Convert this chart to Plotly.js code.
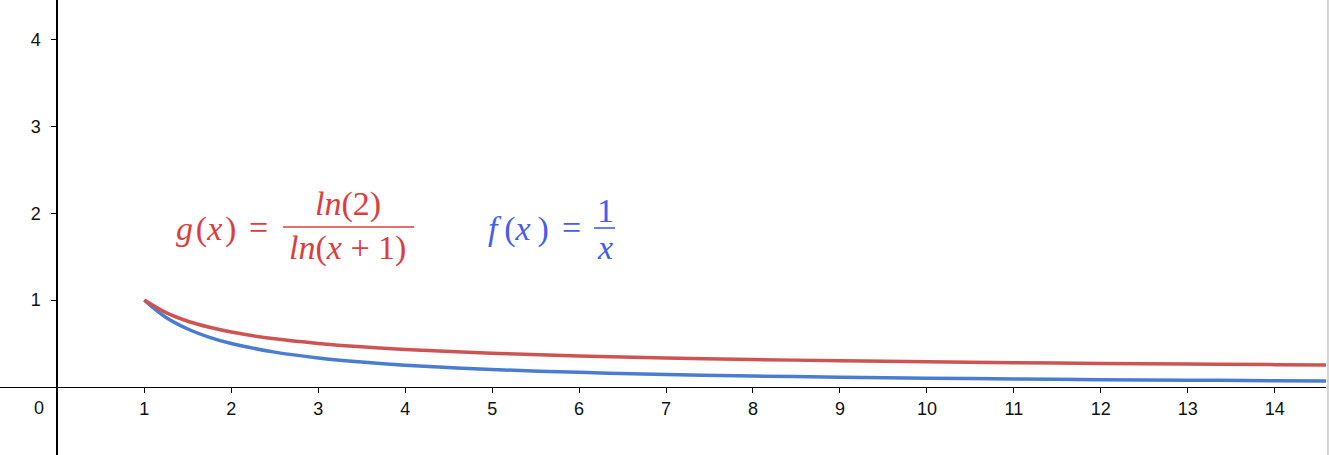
<!DOCTYPE html>
<html>
<head>
<meta charset="utf-8">
<script src="https://cdn.plot.ly/plotly-3.0.1.min.js"></script>
<style>html,body{margin:0;padding:0;background:#fff;}#chart{width:1329px;height:455px;}</style>
</head>
<body>
<div id="chart"></div>
<script>
// Values
const xs = [1, 1.25, 1.5, 1.75, 2, 2.5, 3, 3.5, 4, 5, 6, 7, 8, 9, 10, 11, 12, 13, 14, 14.6];
const fVals = [1, 0.8, 0.667, 0.571, 0.5, 0.4, 0.333, 0.286, 0.25, 0.2, 0.167, 0.143, 0.125, 0.111, 0.1, 0.091, 0.083, 0.077, 0.071, 0.068];
const gVals = [1, 0.855, 0.756, 0.686, 0.631, 0.553, 0.5, 0.461, 0.431, 0.387, 0.356, 0.333, 0.315, 0.301, 0.289, 0.279, 0.270, 0.263, 0.256, 0.252];
const xTicks = [1,2,3,4,5,6,7,8,9,10,11,12,13,14];
const yTicks = [1,2,3,4];

const W = 1329, H = 455, MR = 3;
const PW = W - MR;
const xRange = [-0.66, 14.59];
const yRange = [-0.785, 4.457];
const px = p => p / PW;          // pixel -> paper x
const py = p => 1 - p / H;       // pixel -> paper y

const red = 'rgb(206,84,84)';
const blue = 'rgb(74,124,210)';
const redText = 'rgb(220,62,62)';
const blueText = 'rgb(72,92,238)';

const traces = [
  {x: xs, y: fVals, mode: 'lines', line: {color: blue, width: 3.5, shape: 'spline'}, hoverinfo: 'skip'},
  {x: xs, y: gVals, mode: 'lines', line: {color: red, width: 3.5, shape: 'spline'}, hoverinfo: 'skip'}
];

const mathFont = (c) => ({family: 'Liberation Serif', size: 34, color: c});
const ann = (text, x, y, c, xanchor) => ({
  text: text, xref: 'paper', yref: 'paper', x: px(x), y: py(y),
  xanchor: xanchor || 'center', yanchor: 'middle', showarrow: false, font: mathFont(c)
});

const annotations = [
  ann('<i>g</i>&#8202;(<i>x</i>&#8202;)', 174, 229, redText, 'left'),
  ann('=', 258, 227, redText),
  ann('<i>ln</i>(2)', 348, 204, redText),
  ann('<i>ln</i>(<i>x</i>&nbsp;+&nbsp;1)', 347, 248, redText),
  ann('<i>f</i>&#8201;(<i>x</i>&#8201;)', 486, 229, blueText, 'left'),
  ann('=', 571, 227, blueText),
  ann('1', 605, 210, blueText),
  ann('<i>x</i>', 605, 248, blueText),
  {text: '0', xref: 'paper', yref: 'paper', x: px(38.5), y: py(407.5), xanchor: 'center', yanchor: 'middle',
   showarrow: false, font: {family: 'Liberation Sans', size: 18, color: '#111'}}
];

const shapes = [
  {type: 'line', xref: 'paper', yref: 'paper', x0: px(283), x1: px(414), y0: py(227), y1: py(227), line: {color: redText, width: 1.6}},
  {type: 'line', xref: 'paper', yref: 'paper', x0: px(594), x1: px(615), y0: py(228), y1: py(228), line: {color: blueText, width: 1.6}},
  {type: 'line', xref: 'paper', yref: 'paper', x0: 1.0015, x1: 1.0015, y0: 0, y1: 1, line: {color: '#aaa', width: 1}}
];

const tickFont = {family: 'Liberation Sans', size: 18, color: '#111'};

const layout = {
  width: W, height: H,
  margin: {l: 0, r: MR, t: 0, b: 0, pad: 0},
  paper_bgcolor: '#fff', plot_bgcolor: '#fff',
  showlegend: false,
  xaxis: {
    range: xRange, anchor: 'free',
    position: (0 - yRange[0]) / (yRange[1] - yRange[0]),
    showgrid: false, zeroline: false, showline: true, linecolor: '#000', linewidth: 1.5,
    ticks: 'outside', ticklen: 5, tickwidth: 1, tickcolor: '#000',
    tickvals: xTicks, ticktext: xTicks.map(String), tickfont: tickFont, fixedrange: true
  },
  yaxis: {
    range: yRange, anchor: 'free',
    position: (0 - xRange[0]) / (xRange[1] - xRange[0]),
    showgrid: false, zeroline: false, showline: true, linecolor: '#000', linewidth: 2,
    ticks: 'outside', ticklen: 5, tickwidth: 1, tickcolor: '#000', ticklabelstandoff: 7,
    tickvals: yTicks, ticktext: yTicks.map(String), tickfont: tickFont, fixedrange: true
  },
  annotations: annotations,
  shapes: shapes
};

Plotly.newPlot('chart', traces, layout, {displayModeBar: false, staticPlot: true});
</script>
</body>
</html>
